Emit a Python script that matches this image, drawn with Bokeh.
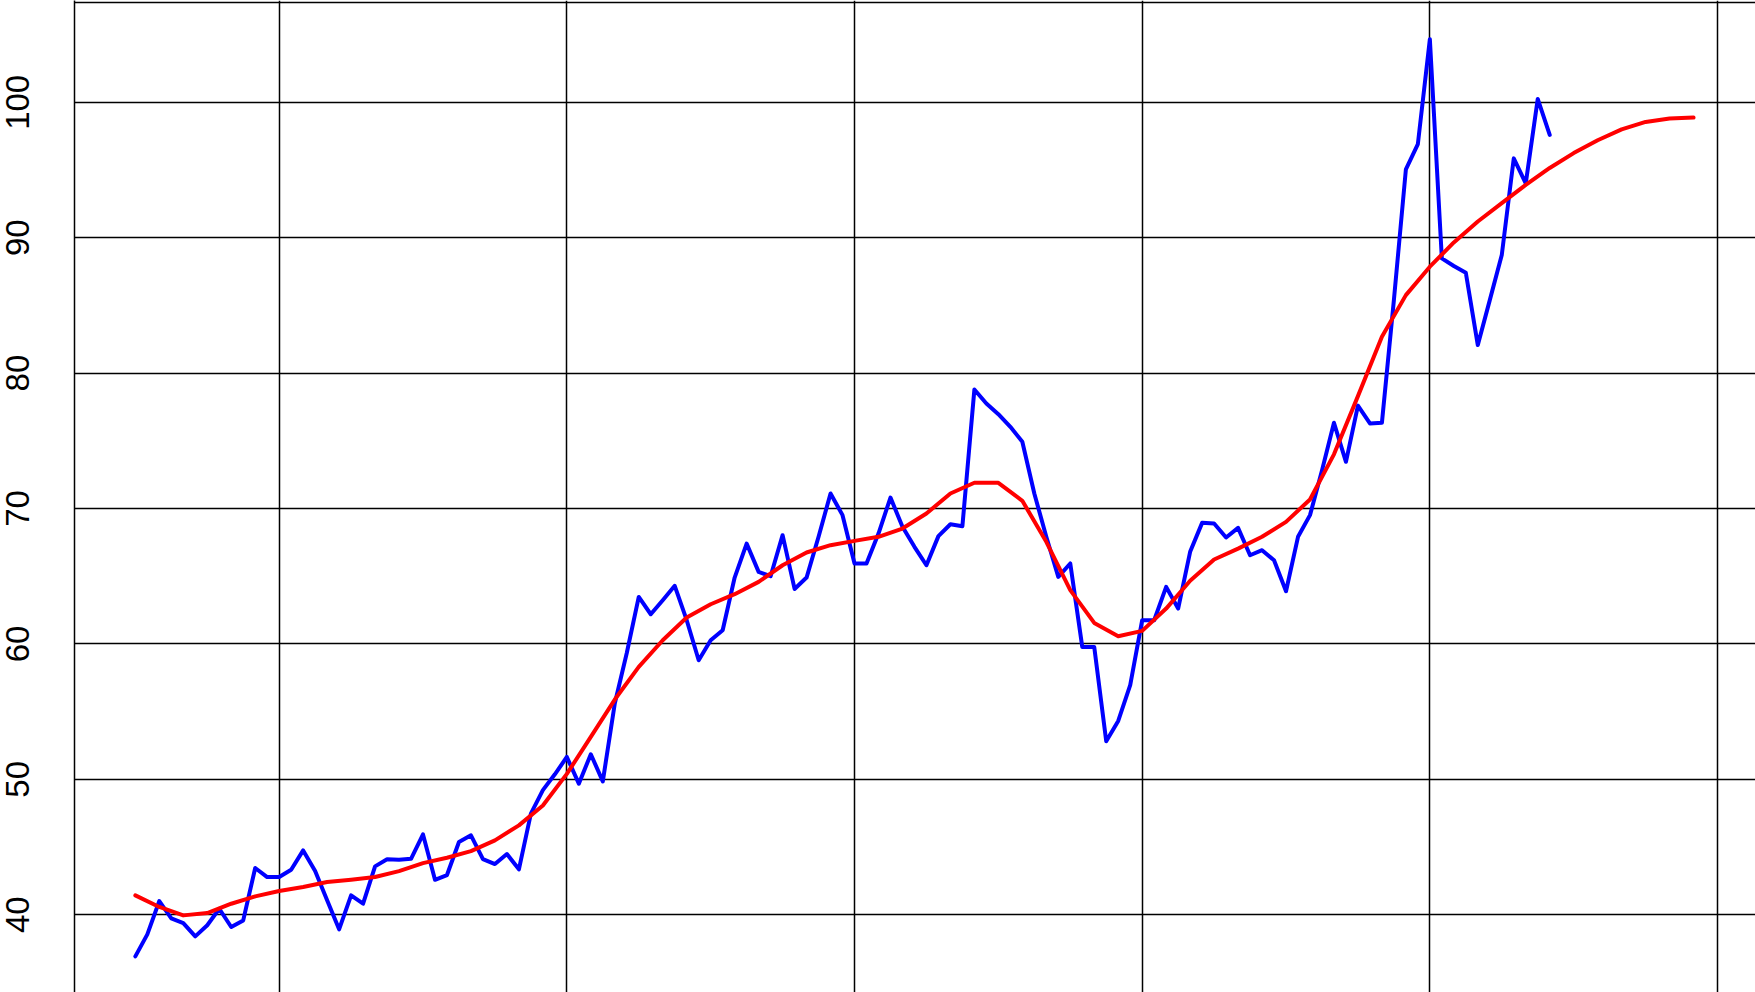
from bokeh.plotting import figure
from bokeh.models import Range1d, FixedTicker, Span
from bokeh.embed import file_html
from bokeh.resources import INLINE

# ---- data (monthly series, first observation at START_YEAR) ----
START_YEAR = 1999.0
blue_values = [
    36.92, 38.55, 41.01, 39.73, 39.38, 38.40, 39.22, 40.44, 39.09, 39.58, 43.45, 42.78,
    42.78, 43.32, 44.75, 43.22, 41.06, 38.92, 41.43, 40.81, 43.57, 44.09, 44.06, 44.13,
    45.93, 42.58, 42.93, 45.37, 45.86, 44.11, 43.74, 44.48, 43.35, 47.46, 49.20, 50.37,
    51.65, 49.68, 51.85, 49.85, 55.60, 59.33, 63.47, 62.19, 63.23, 64.29, 61.75, 58.79,
    60.27, 61.01, 64.90, 67.41, 65.32, 65.00, 68.03, 64.06, 64.90, 67.91, 71.11, 69.51,
    65.94, 65.94, 68.15, 70.81, 68.65, 67.17, 65.81, 67.96, 68.84, 68.69, 78.79, 77.76,
    76.97, 76.03, 74.93, 71.11, 67.91, 64.95, 65.94, 59.78, 59.78, 52.81, 54.31, 56.95,
    61.75, 61.75, 64.21, 62.61, 66.80, 68.94, 68.89, 67.86, 68.57, 66.55, 66.92, 66.18,
    63.89, 67.91, 69.51, 72.80, 76.33, 73.45, 77.60, 76.28, 76.33, 85.40, 95.05, 96.92,
    104.66, 88.47, 87.91, 87.41, 82.07, 85.39, 88.72, 95.86, 94.01, 100.25, 97.59,
]
# smoothed trend, one value every RED_STEP months
RED_STEP = 2
red_values = [
    41.43, 40.57, 39.95, 40.12, 40.81, 41.35, 41.75, 42.04, 42.41, 42.58, 42.78, 43.22,
    43.81, 44.21, 44.70, 45.49, 46.60, 48.07, 50.40, 53.13, 55.89, 58.30, 60.27, 61.95,
    62.93, 63.67, 64.58, 65.81, 66.75, 67.29, 67.61, 67.91, 68.52, 69.63, 71.11, 71.90,
    71.90, 70.57, 67.54, 63.97, 61.55, 60.57, 60.96, 62.61, 64.66, 66.23, 67.04, 67.91,
    69.01, 70.67, 74.00, 78.30, 82.68, 85.76, 87.86, 89.65, 91.20, 92.55, 93.90, 95.15,
    96.25, 97.20, 98.00, 98.55, 98.80, 98.87,
]
x_grid = [2000, 2002, 2004, 2006, 2008, 2010]
y_ticks = [40, 50, 60, 70, 80, 90, 100]
y_tick_labels = {40: "40", 50: "50", 60: "60", 70: "70", 80: "80", 90: "90", 100: "100"}

blue_x = [START_YEAR + i / 12 for i in range(len(blue_values))]
red_x = [START_YEAR + RED_STEP * i / 12 for i in range(len(red_values))]

FONT = "Liberation Sans"

p = figure(
    width=1755, height=992,
    output_backend="svg", toolbar_location=None,
    x_range=Range1d(1998.577, 2010.264),
    y_range=Range1d(34.254, 107.52),
    min_border_left=74, min_border_right=0, min_border_top=0, min_border_bottom=0,
)
p.outline_line_color = None
p.background_fill_color = "white"
p.border_fill_color = "white"
p.xaxis.visible = False

yax = p.yaxis[0]
yax.ticker = FixedTicker(ticks=y_ticks)
yax.major_label_overrides = y_tick_labels
yax.major_label_orientation = "vertical"
yax.major_label_text_font = FONT
yax.major_label_text_font_size = "33px"
yax.major_label_text_color = "black"
yax.major_label_standoff = 45
yax.major_tick_out = 0
yax.major_tick_in = 0
yax.minor_tick_out = 0
yax.minor_tick_in = 0
yax.axis_line_color = "black"
yax.axis_line_width = 1.5

p.xgrid.ticker = FixedTicker(ticks=x_grid)
p.ygrid.ticker = FixedTicker(ticks=y_ticks)
for g in (p.xgrid, p.ygrid):
    g.grid_line_color = "black"
    g.grid_line_width = 1.5
    g.grid_line_alpha = 1.0

# top border of the plot box
p.add_layout(Span(location=107.37, dimension="width", line_color="black", line_width=1.5))

p.line(blue_x, blue_values, line_color="#0000FF", line_width=4,
       line_join="round", line_cap="round")
p.line(red_x, red_values, line_color="#FF0000", line_width=4,
       line_join="round", line_cap="round")

open("out.html", "w").write(file_html(p, INLINE))
